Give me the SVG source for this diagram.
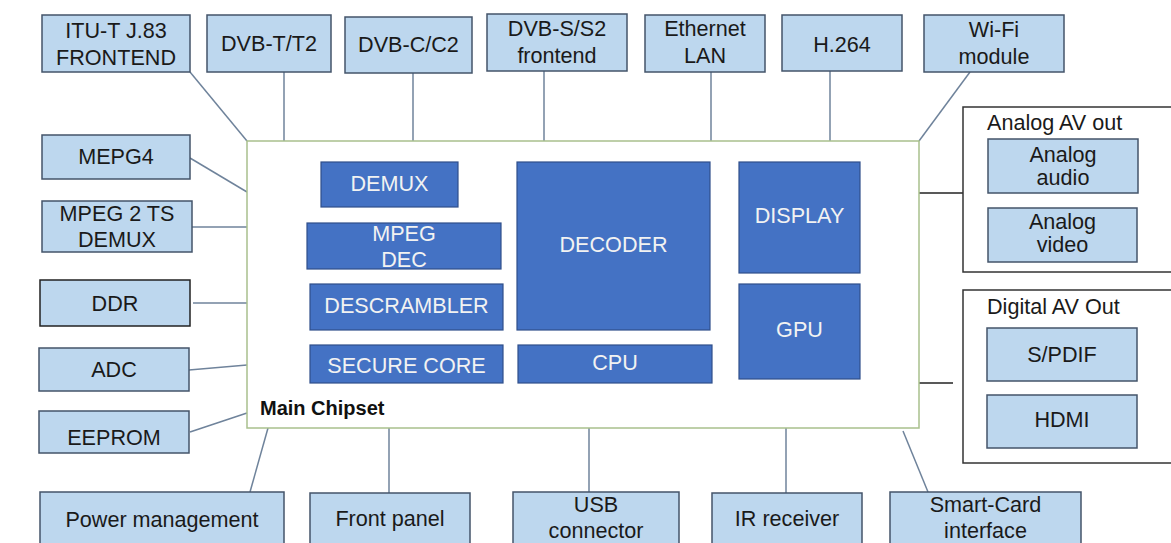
<svg xmlns="http://www.w3.org/2000/svg" width="1171" height="543" viewBox="0 0 1171 543">
<style>
.ob{fill:#bdd7ee;stroke:#44546a;stroke-width:1.5}
.ib{fill:#4472c4;stroke:#2f4f8a;stroke-width:1.2}
.grp{fill:#fff;stroke:#333;stroke-width:1.5}
.chip{fill:#fff;stroke:#a9c08d;stroke-width:1.5}
.t{font-family:"Liberation Sans",Arial,sans-serif;font-size:21.6px;fill:#1a1a1a;text-anchor:middle}
.w{font-family:"Liberation Sans",Arial,sans-serif;font-size:21.6px;fill:#f2f2f2;text-anchor:middle}
.l{font-family:"Liberation Sans",Arial,sans-serif;font-size:21.6px;fill:#1a1a1a}
.c{stroke:#6f839b;stroke-width:1.5;fill:none}
.k{stroke:#222;stroke-width:1.5;fill:none}
</style>
<rect width="1171" height="543" fill="#fff"/>
<g id="connectors">
<line class="c" x1="190" y1="72" x2="247" y2="141"/>
<line class="c" x1="284" y1="72" x2="284" y2="141"/>
<line class="c" x1="413" y1="73" x2="413" y2="141"/>
<line class="c" x1="544" y1="71" x2="544" y2="141"/>
<line class="c" x1="711" y1="72" x2="711" y2="141"/>
<line class="c" x1="830" y1="71" x2="830" y2="141"/>
<line class="c" x1="970" y1="72" x2="919" y2="141"/>
<line class="c" x1="190" y1="158" x2="247" y2="192"/>
<line class="c" x1="192" y1="227" x2="247" y2="227"/>
<line class="c" x1="193" y1="303" x2="247" y2="303"/>
<line class="c" x1="189" y1="370" x2="247" y2="365"/>
<line class="c" x1="190" y1="432" x2="247" y2="413"/>
<line class="c" x1="268" y1="428" x2="250" y2="492"/>
<line class="c" x1="389" y1="428" x2="389" y2="493"/>
<line class="c" x1="589" y1="428" x2="589" y2="492"/>
<line class="c" x1="786" y1="428" x2="786" y2="493"/>
<line class="c" x1="903" y1="431" x2="928" y2="492"/>
<line class="k" x1="919" y1="193" x2="963" y2="193"/>
<line class="k" x1="919" y1="383" x2="953" y2="383"/>
</g>
<g id="main-chipset">
<rect class="chip" x="247" y="141" width="672" height="287"/>
<text x="260" y="415" style="font-family:'Liberation Sans',Arial,sans-serif;font-size:20px;font-weight:bold;fill:#111">Main Chipset</text>
</g>
<g id="demux"><rect class="ib" x="321" y="162" width="137" height="45"/><text class="w" x="389.5" y="191">DEMUX</text></g>
<g id="mpeg-dec"><rect class="ib" x="307" y="223" width="194" height="46"/><text class="w" x="404" y="241">MPEG</text><text class="w" x="404" y="267">DEC</text></g>
<g id="descrambler"><rect class="ib" x="310" y="284" width="193" height="46"/><text class="w" x="406.5" y="313">DESCRAMBLER</text></g>
<g id="secure-core"><rect class="ib" x="310" y="345" width="193" height="38"/><text class="w" x="406.5" y="373">SECURE CORE</text></g>
<g id="decoder"><rect class="ib" x="517" y="162" width="193" height="168"/><text class="w" x="613.5" y="252">DECODER</text></g>
<g id="cpu"><rect class="ib" x="518" y="345" width="194" height="38"/><text class="w" x="615" y="370">CPU</text></g>
<g id="display"><rect class="ib" x="739" y="162" width="121" height="111"/><text class="w" x="799.5" y="223">DISPLAY</text></g>
<g id="gpu"><rect class="ib" x="739" y="284" width="121" height="95"/><text class="w" x="799.5" y="337">GPU</text></g>
<g id="itu"><rect class="ob" x="42" y="15" width="148" height="57"/><text class="t" x="116" y="38">ITU-T J.83</text><text class="t" x="116" y="65">FRONTEND</text></g>
<g id="dvbt"><rect class="ob" x="207" y="15" width="124" height="57"/><text class="t" x="269" y="51">DVB-T/T2</text></g>
<g id="dvbc"><rect class="ob" x="345" y="17" width="127" height="56"/><text class="t" x="408.5" y="52">DVB-C/C2</text></g>
<g id="dvbs"><rect class="ob" x="487" y="14" width="140" height="57"/><text class="t" x="557" y="36">DVB-S/S2</text><text class="t" x="557" y="63">frontend</text></g>
<g id="ethernet"><rect class="ob" x="645" y="15" width="120" height="57"/><text class="t" x="705" y="36">Ethernet</text><text class="t" x="705" y="63">LAN</text></g>
<g id="h264"><rect class="ob" x="782" y="15" width="120" height="56"/><text class="t" x="842" y="52">H.264</text></g>
<g id="wifi"><rect class="ob" x="924" y="15" width="140" height="57"/><text class="t" x="994" y="37">Wi-Fi</text><text class="t" x="994" y="64">module</text></g>
<g id="mepg4"><rect class="ob" x="42" y="135" width="148" height="44"/><text class="t" x="116" y="164">MEPG4</text></g>
<g id="mpeg2ts"><rect class="ob" x="42" y="201" width="150" height="51"/><text class="t" x="117" y="221">MPEG 2 TS</text><text class="t" x="117" y="247">DEMUX</text></g>
<g id="ddr"><rect class="ob" x="40" y="280" width="150" height="46" style="stroke:#222"/><text class="t" x="115" y="311">DDR</text></g>
<g id="adc"><rect class="ob" x="39" y="348" width="150" height="43"/><text class="t" x="114" y="377">ADC</text></g>
<g id="eeprom"><rect class="ob" x="39" y="411" width="150" height="42"/><text class="t" x="114" y="445">EEPROM</text></g>
<g id="power"><rect class="ob" x="40" y="492" width="244" height="60"/><text class="t" x="162" y="527">Power management</text></g>
<g id="front-panel"><rect class="ob" x="310" y="493" width="160" height="60"/><text class="t" x="390" y="526">Front panel</text></g>
<g id="usb"><rect class="ob" x="513" y="492" width="166" height="60"/><text class="t" x="596" y="512">USB</text><text class="t" x="596" y="538">connector</text></g>
<g id="ir"><rect class="ob" x="712" y="493" width="150" height="60"/><text class="t" x="787" y="526">IR receiver</text></g>
<g id="smartcard"><rect class="ob" x="890" y="492" width="191" height="60"/><text class="t" x="985.5" y="512">Smart-Card</text><text class="t" x="985.5" y="538">interface</text></g>
<g id="analog-av-out">
<rect class="grp" x="963" y="107" width="220" height="165"/>
<text class="l" x="987" y="130">Analog AV out</text>
<g id="analog-audio"><rect class="ob" x="988" y="139" width="150" height="54"/><text class="t" x="1063" y="162">Analog</text><text class="t" x="1063" y="185">audio</text></g>
<g id="analog-video"><rect class="ob" x="988" y="208" width="149" height="54"/><text class="t" x="1062.5" y="229">Analog</text><text class="t" x="1062.5" y="252">video</text></g>
</g>
<g id="digital-av-out">
<rect class="grp" x="963" y="290" width="220" height="173"/>
<text class="l" x="987" y="314">Digital AV Out</text>
<g id="spdif"><rect class="ob" x="987" y="328" width="150" height="53"/><text class="t" x="1062" y="362">S/PDIF</text></g>
<g id="hdmi"><rect class="ob" x="987" y="395" width="150" height="53"/><text class="t" x="1062" y="427">HDMI</text></g>
</g>
</svg>
